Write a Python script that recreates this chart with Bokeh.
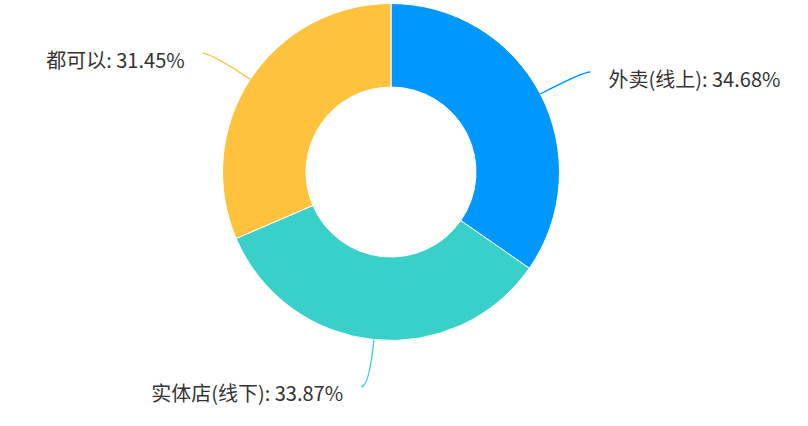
import math
from bokeh.plotting import figure
from bokeh.models import Range1d, ColumnDataSource
from bokeh.core.properties import value
from bokeh.embed import file_html
from bokeh.resources import INLINE

categories = ["外卖(线上)", "实体店(线下)", "都可以"]
percents = [34.68, 33.87, 31.45]
colors = ["#0098FF", "#38D0C9", "#FFC23D"]

W, H = 792, 410
cx_px, cy_px = 390.5, 171.5   # centre inside the figure, pixels from top-left
R_OUT, R_IN = 168.5, 85.0
R_CTRL = 216.0
HOOK = 8.0
GAP = 18.0
TEXT_DY = 6.0

p = figure(width=W, height=H, output_backend="svg", toolbar_location=None,
           x_range=Range1d(-cx_px, W - cx_px), y_range=Range1d(cy_px - H, cy_px),
           min_border=0, outline_line_color=None)
p.axis.visible = False
p.grid.visible = False
p.background_fill_color = "white"
p.border_fill_color = "white"

total = sum(percents)
starts, ends, mids = [], [], []
cum = 0.0
for v in percents:
    a0 = math.pi / 2 - 2 * math.pi * cum / total
    cum += v
    a1 = math.pi / 2 - 2 * math.pi * cum / total
    starts.append(a0)
    ends.append(a1)
    mids.append((a0 + a1) / 2)

src = ColumnDataSource(dict(x=[0] * len(percents), y=[0] * len(percents),
                            start=starts, end=ends, color=colors))
p.annular_wedge(x="x", y="y", inner_radius=R_IN, outer_radius=R_OUT,
                start_angle="start", end_angle="end", direction="clock",
                fill_color="color", line_color="white", line_width=1, source=src)

x0s, y0s, cxs, cys, x1s, y1s = [], [], [], [], [], []
tx, ty, tal, labels = [], [], [], []
for cat, v, m in zip(categories, percents, mids):
    c, s = math.cos(m), math.sin(m)
    side = 1 if c >= 0 else -1
    x0, y0 = R_OUT * c, R_OUT * s
    qx, qy = R_CTRL * c, R_CTRL * s
    x1, y1 = qx + side * HOOK, qy
    x0s.append(x0); y0s.append(y0); cxs.append(qx); cys.append(qy)
    x1s.append(x1); y1s.append(y1)
    tx.append(x1 + side * GAP)
    ty.append(y1 - TEXT_DY)
    tal.append("left" if side > 0 else "right")
    labels.append(f"{cat}: {v:.2f}%")

lsrc = ColumnDataSource(dict(x0=x0s, y0=y0s, cx=cxs, cy=cys, x1=x1s, y1=y1s, color=colors))
p.quadratic(x0="x0", y0="y0", x1="x1", y1="y1", cx="cx", cy="cy",
            line_color="color", line_width=1.3, source=lsrc)

tsrc = ColumnDataSource(dict(x=tx, y=ty, text=labels, align=tal))
p.text(x="x", y="y", text="text", text_align="align", text_baseline="middle",
       text_font=value("Noto Sans CJK SC"), text_font_size="20px",
       text_color="#333333", source=tsrc)

open("out.html", "w").write(file_html(p, INLINE))
